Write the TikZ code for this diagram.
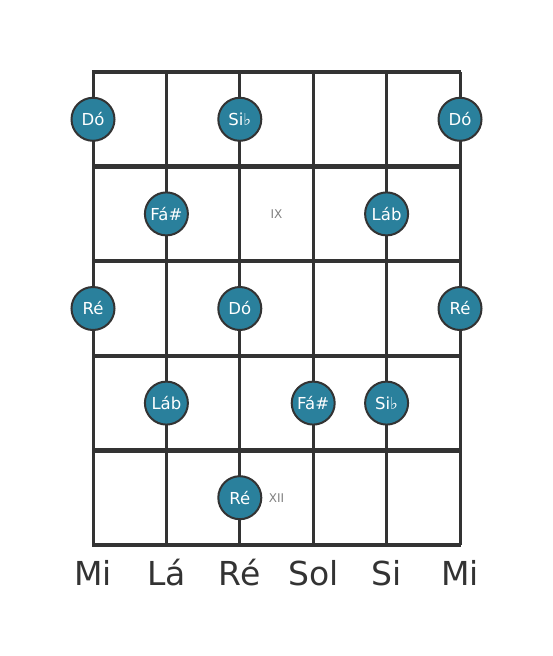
\documentclass[tikz,border=0pt]{standalone}
\usepackage{fontspec}
\setmainfont{DejaVu Sans}
\usepackage{xcolor}
\definecolor{notefill}{RGB}{42,128,156}
\definecolor{gridline}{RGB}{51,51,51}

\tikzset{
	note/.style = {circle, draw = gridline, line width = 2pt, fill = notefill, minimum size = 43pt, inner sep = 0pt, text = white, font = \fontsize{16.5}{16.5}\selectfont},
	fretno/.style = {text = gray, font = \fontsize{12}{12}\selectfont},
	stringname/.style = {text = gridline, font = \fontsize{33}{33}\selectfont}
}

\begin{document}
\begin{tikzpicture}[x = 1pt, y = -1pt]
			\def\sx{73.4};
			\def\fy{94.6};
			\def\xo{93};
			\def\yo{72};
			
			\useasboundingbox (0,0) rectangle (553,656);
			
			% strings
			\foreach \s in {0,...,5}
				\draw [gridline, line width = 3pt] ({\xo+\s*\sx},\yo) -- ({\xo+\s*\sx},{\yo+5*\fy});
			
			% frets
			\foreach \f in {0,...,5}
				\draw [gridline, line width = 4.5pt] (\xo-1,{\yo+\f*\fy}) -- ({\xo+5*\sx+1},{\yo+\f*\fy});
			
			% fret numbers
			\node [fretno] (nine) at ({\xo+2.5*\sx},{\yo+1.5*\fy}) {IX};
			\node [fretno] (twelve) at ({\xo+2.5*\sx},{\yo+4.5*\fy}) {XII};
			
			% notes
			\node [note] (do1) at ({\xo+0*\sx},{\yo+0.5*\fy}) {Dó};
			\node [note] (sib1) at ({\xo+2*\sx},{\yo+0.5*\fy}) {Si♭};
			\node [note] (do2) at ({\xo+5*\sx},{\yo+0.5*\fy}) {Dó};
			
			\node [note] (fas1) at ({\xo+1*\sx},{\yo+1.5*\fy}) {Fá\#};
			\node [note] (lab1) at ({\xo+4*\sx},{\yo+1.5*\fy}) {Láb};
			
			\node [note] (re1) at ({\xo+0*\sx},{\yo+2.5*\fy}) {Ré};
			\node [note] (do3) at ({\xo+2*\sx},{\yo+2.5*\fy}) {Dó};
			\node [note] (re2) at ({\xo+5*\sx},{\yo+2.5*\fy}) {Ré};
			
			\node [note] (lab2) at ({\xo+1*\sx},{\yo+3.5*\fy}) {Láb};
			\node [note] (fas2) at ({\xo+3*\sx},{\yo+3.5*\fy}) {Fá\#};
			\node [note] (sib2) at ({\xo+4*\sx},{\yo+3.5*\fy}) {Si♭};
			
			\node [note] (re3) at ({\xo+2*\sx},{\yo+4.5*\fy}) {Ré};
			
			% string names
			\node [stringname] (mi1) at ({\xo+0*\sx},573) {Mi};
			\node [stringname] (la) at ({\xo+1*\sx},573) {Lá};
			\node [stringname] (re) at ({\xo+2*\sx},573) {Ré};
			\node [stringname] (sol) at ({\xo+3*\sx},573) {Sol};
			\node [stringname] (si) at ({\xo+4*\sx},573) {Si};
			\node [stringname] (mi2) at ({\xo+5*\sx},573) {Mi};
		\end{tikzpicture}
\end{document}
